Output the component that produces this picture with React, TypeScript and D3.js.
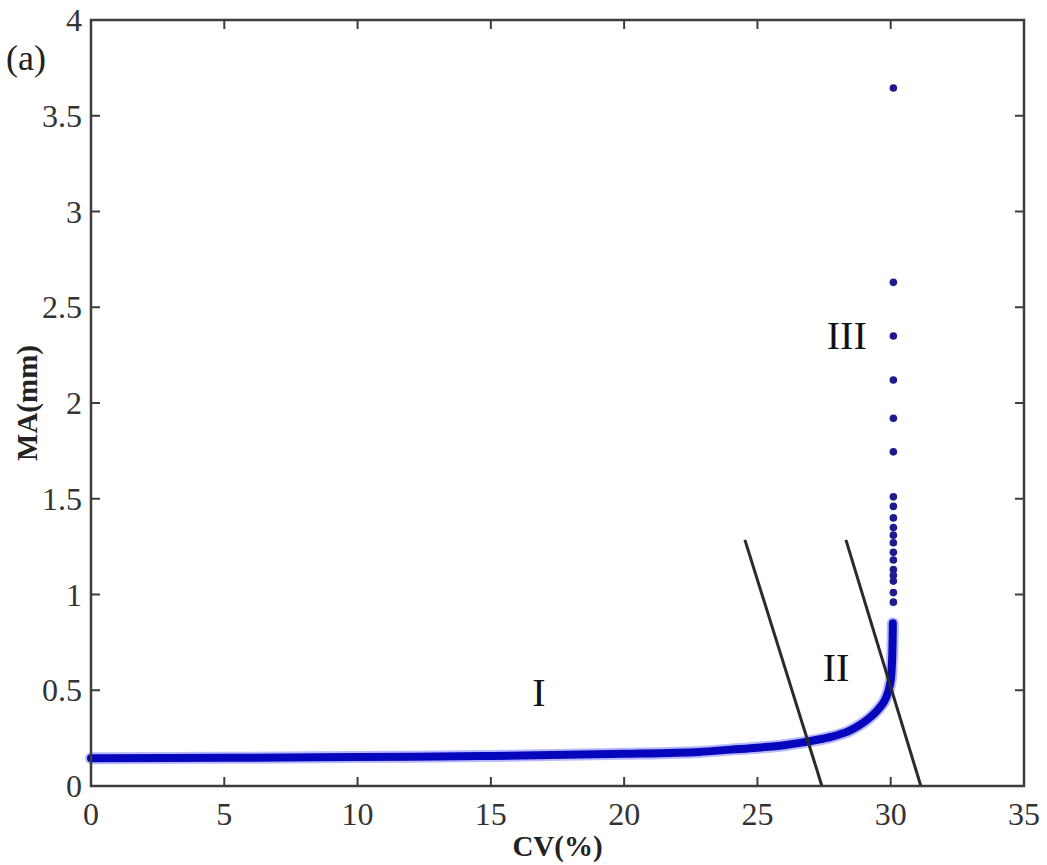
import React from "react";
import * as d3 from "d3";

// Dense branch of MA against CV (drawn as a continuous band of markers)
const curveCV = [0, 5, 10, 15, 20, 22.8, 24, 25, 26, 26.6, 27.2, 27.8, 28.4, 28.8, 29.2, 29.5, 29.75, 29.9, 30.0, 30.05, 30.07, 30.08];
const curveMA = [0.145, 0.147, 0.151, 0.157, 0.168, 0.178, 0.19, 0.2, 0.213, 0.225, 0.24, 0.258, 0.285, 0.315, 0.355, 0.395, 0.44, 0.49, 0.55, 0.65, 0.75, 0.85];

// Sparse markers on the upper vertical branch
const dotCV = [30.1, 30.1, 30.1, 30.1, 30.1, 30.1, 30.1, 30.1, 30.1, 30.1, 30.1, 30.1, 30.1, 30.1, 30.1, 30.1, 30.1, 30.1, 30.1];
const dotMA = [3.645, 2.63, 2.35, 2.12, 1.92, 1.745, 1.51, 1.46, 1.40, 1.35, 1.31, 1.27, 1.22, 1.18, 1.13, 1.10, 1.07, 1.01, 0.96];

// Region boundary lines: [cv0, ma0, cv1, ma1]
const boundaryA = [24.53, 1.285, 27.42, 0];
const boundaryB = [28.32, 1.285, 31.13, 0];

const xTicks = [0, 5, 10, 15, 20, 25, 30, 35];
const yTicks = [0, 0.5, 1, 1.5, 2, 2.5, 3, 3.5, 4];

const regionLabels = ["I", "II", "III"];
const regionCV = [16.8, 27.95, 28.35];
const regionMA = [0.49, 0.62, 2.35];

const W = 1047;
const H = 865;
const left = 91;
const right = 1024;
const top = 20;
const bottom = 786;

const serif = "'Liberation Serif', 'Times New Roman', Times, serif";

export default function App() {
  const x = d3.scaleLinear().domain([0, 35]).range([left, right]);
  const y = d3.scaleLinear().domain([0, 4]).range([bottom, top]);

  const pts: [number, number][] = curveCV.map((c, i) => [c, curveMA[i]]);
  const line = d3
    .line<[number, number]>()
    .x((d) => x(d[0]))
    .y((d) => y(d[1]))
    .curve(d3.curveCatmullRom.alpha(0.5));

  const tickLen = 9;
  const axisColor = "#3c3c3c";

  return (
    <svg
      width={W}
      height={H}
      style={{ position: "absolute", left: 0, top: 0, background: "#fff" }}
      fontFamily={serif}
    >
      {/* data band */}
      <path d={line(pts) || ""} fill="none" stroke="#8a8aff" strokeWidth={12} strokeLinecap="round" opacity={0.6} />
      <path d={line(pts) || ""} fill="none" stroke="#0606bc" strokeWidth={8} strokeLinecap="round" />
      {dotMA.map((m, i) => (
        <circle key={i} cx={x(dotCV[i])} cy={y(m)} r={3.8} fill="#1c1c90" />
      ))}

      {/* boundaries */}
      {[boundaryA, boundaryB].map((b, i) => (
        <line key={i} x1={x(b[0])} y1={y(b[1])} x2={x(b[2])} y2={y(b[3])} stroke="#2a2a2a" strokeWidth={3} />
      ))}

      {/* region labels */}
      {regionLabels.map((t, i) => (
        <text key={t} x={x(regionCV[i])} y={y(regionMA[i])} fontSize={40} textAnchor="middle" dominantBaseline="central" fill="#111">
          {t}
        </text>
      ))}

      {/* frame */}
      <rect x={left} y={top} width={right - left} height={bottom - top} fill="none" stroke={axisColor} strokeWidth={2.5} />

      {/* ticks */}
      {xTicks.map((t) => (
        <g key={"x" + t}>
          <line x1={x(t)} x2={x(t)} y1={bottom} y2={bottom - tickLen} stroke={axisColor} strokeWidth={2} />
          <line x1={x(t)} x2={x(t)} y1={top} y2={top + tickLen} stroke={axisColor} strokeWidth={2} />
          <text x={x(t)} y={825} fontSize={32} textAnchor="middle" fill="#333">
            {t}
          </text>
        </g>
      ))}
      {yTicks.map((t) => (
        <g key={"y" + t}>
          <line x1={left} x2={left + tickLen} y1={y(t)} y2={y(t)} stroke={axisColor} strokeWidth={2} />
          <line x1={right} x2={right - tickLen} y1={y(t)} y2={y(t)} stroke={axisColor} strokeWidth={2} />
          <text x={82} y={y(t)} fontSize={32} textAnchor="end" dominantBaseline="central" fill="#333">
            {t}
          </text>
        </g>
      ))}

      {/* axis titles */}
      <text x={(left + right) / 2} y={856} fontSize={29} fontWeight="bold" textAnchor="middle" fill="#222">
        CV(%)
      </text>
      <text
        transform={`translate(37, ${(top + bottom) / 2}) rotate(-90)`}
        fontSize={29}
        fontWeight="bold"
        textAnchor="middle"
        fill="#222"
      >
        MA(mm)
      </text>
      <text x={6} y={70} fontSize={36} fill="#222">
        (a)
      </text>
    </svg>
  );
}
